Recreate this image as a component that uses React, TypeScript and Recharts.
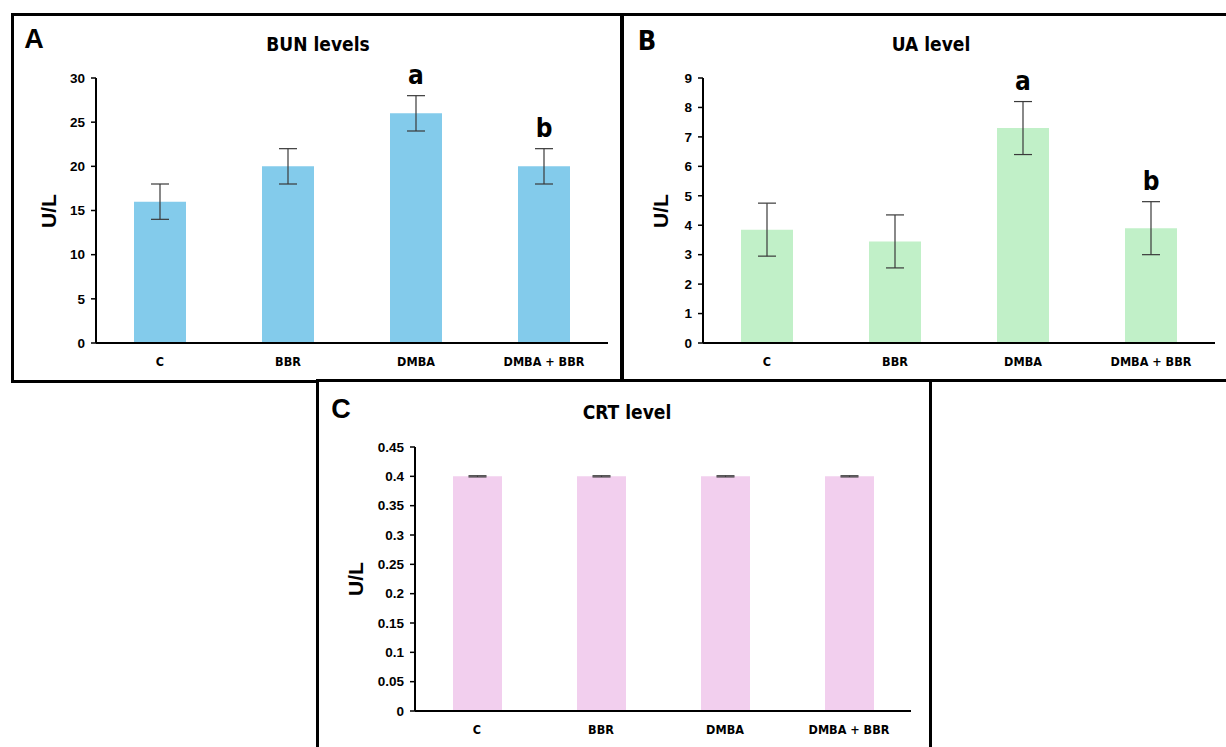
import React from "react";
import { Bar, BarChart, ErrorBar, LabelList, XAxis, YAxis } from "recharts";

// data
const groups = ["C", "BBR", "DMBA", "DMBA + BBR"];

const bunMean = [16, 20, 26, 20];
const bunErr = [2, 2, 2, 2];
const bunSig = ["", "", "a", "b"];
const bunTicks = [0, 5, 10, 15, 20, 25, 30];

const uaMean = [3.85, 3.45, 7.3, 3.9];
const uaErr = [0.9, 0.9, 0.9, 0.9];
const uaSig = ["", "", "a", "b"];
const uaTicks = [0, 1, 2, 3, 4, 5, 6, 7, 8, 9];

const crtMean = [0.4, 0.4, 0.4, 0.4];
const crtErr = [0.001, 0.001, 0.001, 0.001];
const crtSig = ["", "", "", ""];
const crtTicks = [0, 0.05, 0.1, 0.15, 0.2, 0.25, 0.3, 0.35, 0.4, 0.45];

const ARIAL = "'Liberation Sans', Arial, sans-serif";
const COND = "'DejaVu Sans Condensed', 'Liberation Sans Narrow', sans-serif";

type Box = { left: number; top: number; width: number; height: number };
type Plot = { x0: number; x1: number; y0: number; y1: number };

function sigLabel(means: number[], errs: number[]) {
  return (props: any) => {
    const { x, y, width, height, index, value } = props;
    if (!value) return null;
    const pxPerUnit = Number(height) / means[index];
    const top = Number(y) - errs[index] * pxPerUnit;
    return (
      <text
        x={Number(x) + Number(width) / 2}
        y={top - 21}
        textAnchor="middle"
        dominantBaseline="central"
        fontFamily={COND}
        fontWeight={700}
        fontSize={26}
        fill="#000"
      >
        {value}
      </text>
    );
  };
}

function fmt(v: number) {
  return String(Number(v.toFixed(2)));
}

function Panel({
  box,
  plot,
  letter,
  letterPos,
  letterFont,
  title,
  titleX,
  titleY,
  ylabX,
  means,
  errs,
  sig,
  ticks,
  color,
  barSize,
}: {
  box: Box;
  plot: Plot;
  letter: string;
  letterPos: [number, number];
  letterFont: string;
  title: string;
  titleX: number;
  titleY: number;
  ylabX: number;
  means: number[];
  errs: number[];
  sig: string[];
  ticks: number[];
  color: string;
  barSize: number;
}) {
  const data = groups.map((g, i) => ({ name: g, value: means[i], err: errs[i], sig: sig[i] }));
  const yAxisW = 50;
  const xAxisH = 30;
  const margin = {
    top: plot.y0 - box.top,
    left: plot.x0 - box.left - yAxisW,
    right: box.left + box.width - plot.x1,
    bottom: box.top + box.height - plot.y1 - xAxisH,
  };
  const ylabY = (plot.y0 + plot.y1) / 2;

  return (
    <>
      <div
        style={{
          position: "absolute",
          left: box.left,
          top: box.top,
          width: box.width,
          height: box.height,
          border: "3px solid #000",
          boxSizing: "border-box",
          background: "#fff",
        }}
      />
      <div style={{ position: "absolute", left: box.left, top: box.top }}>
        <BarChart width={box.width} height={box.height} data={data} margin={margin}>
          <XAxis
            dataKey="name"
            height={xAxisH}
            axisLine={{ stroke: "#000", strokeWidth: 2 }}
            tickLine={false}
            tickSize={0}
            tickMargin={14}
            tick={{ fill: "#000", fontSize: 12.5, fontWeight: 700, fontFamily: COND }}
            interval={0}
          />
          <YAxis
            width={yAxisW}
            domain={[ticks[0], ticks[ticks.length - 1]]}
            ticks={ticks}
            tickFormatter={fmt}
            axisLine={{ stroke: "#000", strokeWidth: 2 }}
            tickLine={{ stroke: "#000", strokeWidth: 1.5 }}
            tickSize={5}
            tickMargin={6}
            tick={{ fill: "#000", fontSize: 13.5, fontWeight: 700, fontFamily: ARIAL }}
            allowDataOverflow
          />
          <Bar dataKey="value" fill={color} barSize={barSize} isAnimationActive={false}>
            <ErrorBar dataKey="err" width={9} strokeWidth={1.2} stroke="#3a3a3a" />
            <LabelList dataKey="sig" content={sigLabel(means, errs)} />
          </Bar>
        </BarChart>
      </div>
      <div
        style={{
          position: "absolute",
          left: letterPos[0],
          top: letterPos[1],
          transform: "translate(-50%, -50%)",
          fontFamily: letterFont,
          fontWeight: 700,
          fontSize: 27,
          lineHeight: 1,
        }}
      >
        {letter}
      </div>
      <div
        style={{
          position: "absolute",
          left: titleX,
          top: titleY,
          transform: "translate(-50%, -50%)",
          fontFamily: COND,
          fontWeight: 700,
          fontSize: 19,
          lineHeight: 1,
          whiteSpace: "nowrap",
        }}
      >
        {title}
      </div>
      <div
        style={{
          position: "absolute",
          left: ylabX,
          top: ylabY,
          transform: "translate(-50%, -50%) rotate(-90deg)",
          fontFamily: ARIAL,
          fontWeight: 700,
          fontSize: 21,
          lineHeight: 1,
          whiteSpace: "nowrap",
        }}
      >
        U/L
      </div>
    </>
  );
}

export default function App() {
  return (
    <div
      style={{
        position: "fixed",
        left: 0,
        top: 0,
        width: 1226,
        height: 747,
        background: "#fff",
        overflow: "hidden",
      }}
    >
      <Panel
        box={{ left: 11, top: 13, width: 612, height: 370 }}
        plot={{ x0: 96, x1: 608, y0: 78, y1: 343 }}
        letter="A"
        letterPos={[34, 39]}
        letterFont={ARIAL}
        title="BUN levels"
        titleX={318}
        titleY={44}
        ylabX={48}
        means={bunMean}
        errs={bunErr}
        sig={bunSig}
        ticks={bunTicks}
        color="#83CBEB"
        barSize={52}
      />
      <Panel
        box={{ left: 621, top: 13, width: 620, height: 369 }}
        plot={{ x0: 703, x1: 1215, y0: 78, y1: 343 }}
        letter="B"
        letterPos={[647, 40]}
        letterFont={COND}
        title="UA level"
        titleX={931}
        titleY={44}
        ylabX={660}
        means={uaMean}
        errs={uaErr}
        sig={uaSig}
        ticks={uaTicks}
        color="#C1F0C8"
        barSize={52}
      />
      <Panel
        box={{ left: 316, top: 379, width: 616, height: 380 }}
        plot={{ x0: 415, x1: 911, y0: 447, y1: 711 }}
        letter="C"
        letterPos={[341, 409]}
        letterFont={ARIAL}
        title="CRT level"
        titleX={627}
        titleY={412}
        ylabX={355}
        means={crtMean}
        errs={crtErr}
        sig={crtSig}
        ticks={crtTicks}
        color="#F2CFEE"
        barSize={49}
      />
    </div>
  );
}
